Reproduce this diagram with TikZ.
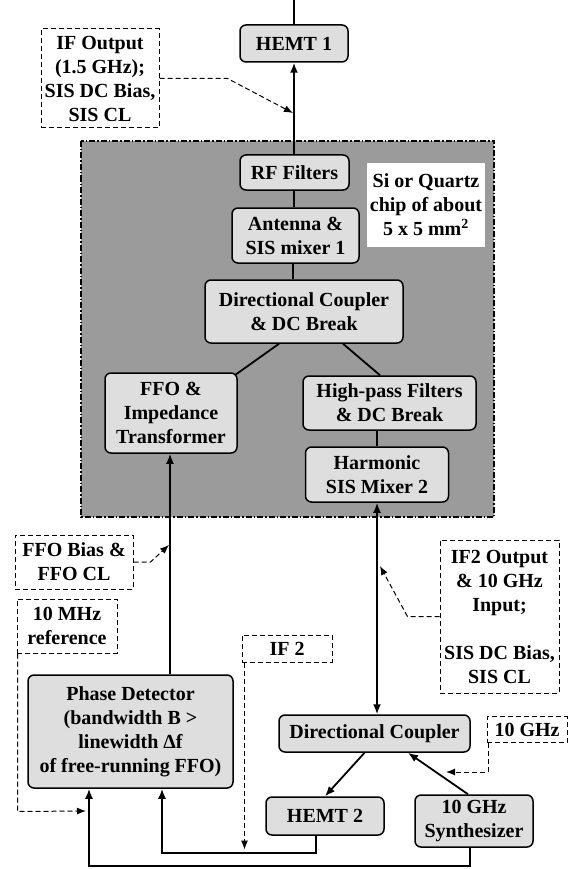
\documentclass[tikz,border=0pt]{standalone}
\usepackage{fontspec}
\setmainfont{Liberation Serif}
\usepackage{tikz}
\usetikzlibrary{arrows.meta,calc}

\definecolor{boxgray}{RGB}{222,222,222}
\definecolor{chipgray}{RGB}{155,155,155}

\begin{document}
\begin{tikzpicture}[x=1pt, y=-1pt,
	lbl/.style={font=\bfseries\fontsize{20}{24}\selectfont, align=center, inner sep=0pt},
	blk/.style={lbl, draw, line width=1.5pt, rounded corners=6pt, fill=boxgray},
	note/.style={lbl, draw, line width=1pt, dash pattern=on 5pt off 3pt},
	wire/.style={line width=1.8pt},
	feed/.style={wire, -{Latex[length=10pt,width=8pt]}},
	hint/.style={line width=1pt, dash pattern=on 5pt off 3pt, -{Latex[length=9pt,width=7pt]}}]
	\useasboundingbox (0,0) rectangle (569,869);

	% chip
	\fill[chipgray] (81,141) rectangle (494,517);
	\draw[line width=1.6pt, dash pattern=on 6pt off 2pt on 1.5pt off 2pt] (81,141) rectangle (494,517);
	\node[lbl, fill=white, minimum width=118, minimum height=84] (chip) at (426,205)
		{Si or Quartz\\chip of about\\5 x 5 mm\textsuperscript{2}};

	% blocks
	\node[blk, minimum width=108, minimum height=37] (hemtA) at (294,43.5) {HEMT 1};
	\node[blk, minimum width=109, minimum height=35] (rf) at (294.5,172.5) {RF Filters};
	\node[blk, minimum width=127, minimum height=55] (ant) at (295.5,235.5) {Antenna \&\\SIS mixer 1};
	\node[blk, minimum width=198, minimum height=63] (dcA) at (304,311.5) {Directional Coupler\\\& DC Break};
	\node[blk, minimum width=132, minimum height=80] (ffo) at (171,413) {FFO \&\\Impedance\\Transformer};
	\node[blk, minimum width=173, minimum height=54] (hpf) at (389.5,403) {High-pass Filters\\\& DC Break};
	\node[blk, minimum width=143, minimum height=55] (harm) at (377,474.5) {Harmonic\\SIS Mixer 2};
	\node[blk, minimum width=205, minimum height=113] (pd) at (130.5,731.5)
		{Phase Detector\\(bandwidth B >\\linewidth Δf\\of free-running FFO)};
	\node[blk, minimum width=191, minimum height=37] (dcB) at (374.5,733.5) {Directional Coupler};
	\node[blk, minimum width=118, minimum height=38] (hemtB) at (325,816) {HEMT 2};
	\node[blk, minimum width=118, minimum height=52] (synth) at (474,821) {10 GHz\\Synthesizer};

	% notes
	\node[note, minimum width=118, minimum height=99] (ifout) at (100,78.5)
		{IF Output\\(1.5 GHz);\\SIS DC Bias,\\SIS CL};
	\node[note, minimum width=118, minimum height=54] (ffobias) at (74,562) {FFO Bias \&\\FFO CL};
	\node[note, minimum width=100, minimum height=54] (ref) at (67,626) {10 MHz\\reference};
	\node[note, minimum width=90, minimum height=27] (iftwo) at (287,648.5) {IF 2};
	\node[note, minimum width=119, minimum height=153] (iftwoout) at (499.5,616.5)
		{IF2 Output\\\& 10 GHz\\Input;\\[24pt]SIS DC Bias,\\SIS CL};
	\node[note, minimum width=80, minimum height=26] (ghz) at (527,729.5) {10 GHz};

	% tips of the dashed pointers
	\coordinate (tipA) at (293,113);
	\coordinate (tipB) at (169,545);
	\coordinate (tipC) at (86,811);
	\coordinate (tipD) at (380,566);
	\coordinate (tipE) at (446,772);

	% chain on the chip
	\draw[wire] (hemtA.north) -- ++(0,-38);
	\draw[feed] (rf.north -| hemtA) -- (hemtA.south);
	\draw[wire] ([xshift=-1.5pt]ant.north) -- ([xshift=-1.5pt]ant.north |- rf.south);
	\draw[wire] ([xshift=-11pt]dcA.north) -- ([xshift=-11pt]dcA.north |- ant.south);
	\path[wire]
	([xshift=-25pt]dcA.south) edge ([xshift=-3pt,yshift=-3pt]ffo.north east)
	([xshift=39pt]dcA.south) edge ([xshift=-9.5pt]hpf.north);
	\draw[wire] (harm.north) -- (harm.north |- hpf.south);
	\draw[wire, {Latex[length=10pt,width=8pt]}-{Latex[length=10pt,width=8pt]}]
		(harm.south) -- (harm.south |- dcB.north);
	\draw[feed] ([xshift=-1pt]ffo.south |- pd.north) -- ([xshift=-1pt]ffo.south);

	% down converter
	\path[feed]
	([xshift=-10pt]dcB.south) edge (hemtB.north)
	([xshift=-6pt]synth.north) edge ([xshift=33.5pt]dcB.south);
	\draw[feed] ([xshift=-9pt]hemtB.south) -- ++(0,17) -| ([xshift=31.5pt]pd.south);
	\draw[feed] ([xshift=-4pt]synth.south) -- ++(0,18) -| ([xshift=-41.5pt]pd.south);

	% dashed pointers
	\draw[hint] (ifout.east) -- ++(68,0) -- (tipA);
	\draw[hint] (ffobias.east) -- ++(17,0) -- (tipB);
	\draw[hint] ([xshift=1pt]ref.south west) -- ++(0,158) -- (tipC);
	\draw[hint] ([xshift=3pt]iftwo.south west) -- ++(0,187);
	\draw[hint] (iftwoout.west) -- ++(-32,0) -- (tipD);
	\draw[hint] ([xshift=1.5pt]ghz.south west) -- ++(0,29) -- (tipE);
\end{tikzpicture}
\end{document}
